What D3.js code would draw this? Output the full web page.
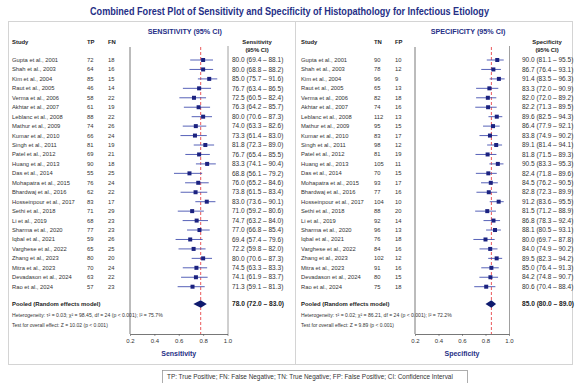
<!DOCTYPE html>
<html>
<head>
<meta charset="utf-8">
<script src="https://cdn.jsdelivr.net/npm/d3@7"></script>
<style>
  body { margin: 0; background: #fff; }
  svg { display: block; font-family: "Liberation Sans", Arial, sans-serif; }
</style>
</head>
<body>
<div id="chart"></div>
<script>
const studies = [
  'Gupta et al., 2001', 'Shah et al., 2003', 'Kim et al., 2004', 'Raut et al., 2005',
  'Verma et al., 2006', 'Akhtar et al., 2007', 'Leblanc et al., 2008', 'Mathur et al., 2009',
  'Kumar et al., 2010', 'Singh et al., 2011', 'Patel et al., 2012', 'Huang et al., 2013',
  'Das et al., 2014', 'Mohapatra et al., 2015', 'Bhardwaj et al., 2016', 'Hosseinpour et al., 2017',
  'Sethi et al., 2018', 'Li et al., 2019', 'Sharma et al., 2020', 'Iqbal et al., 2021',
  'Varghese et al., 2022', 'Zhang et al., 2023', 'Mitra et al., 2023', 'Devadason et al., 2024',
  'Rao et al., 2024'
];

const tp = [72, 64, 85, 46, 58, 61, 88, 74, 66, 81, 69, 90, 55, 76, 62, 83, 71, 68, 77, 59, 65, 80, 70, 63, 57];
const fn = [18, 16, 15, 14, 22, 19, 22, 26, 24, 19, 21, 18, 25, 24, 22, 17, 29, 23, 23, 26, 25, 20, 24, 22, 23];
const sens = [80.0, 80.0, 85.0, 76.7, 72.5, 76.3, 80.0, 74.0, 73.3, 81.8, 76.7, 83.3, 68.8, 76.0, 73.8, 83.0, 71.0, 74.7, 77.0, 69.4, 72.2, 80.0, 74.5, 74.1, 71.3];
const sensLo = [69.4, 68.8, 75.7, 63.4, 60.5, 64.2, 70.6, 63.3, 61.4, 72.3, 65.4, 74.1, 56.1, 65.2, 61.5, 73.6, 59.2, 63.2, 66.8, 57.4, 59.8, 70.6, 63.3, 61.9, 59.1];
const sensHi = [88.1, 88.2, 91.6, 86.5, 82.4, 85.7, 87.3, 82.6, 83.0, 89.0, 85.5, 90.4, 79.2, 84.6, 83.4, 90.1, 80.6, 84.0, 85.4, 79.6, 82.0, 87.3, 83.3, 83.7, 81.3];

const tn = [90, 78, 96, 65, 82, 74, 112, 95, 83, 98, 81, 105, 70, 93, 77, 104, 88, 92, 96, 76, 84, 102, 91, 80, 75];
const fp = [10, 12, 9, 13, 18, 16, 13, 15, 17, 12, 19, 11, 15, 17, 16, 10, 20, 14, 13, 18, 16, 12, 16, 15, 18];
const spec = [90.0, 86.7, 91.4, 83.3, 82.0, 82.2, 89.6, 86.4, 83.8, 89.1, 81.8, 90.5, 82.4, 84.5, 82.8, 91.2, 81.5, 86.8, 88.1, 80.0, 84.0, 89.5, 85.0, 84.2, 80.6];
const specLo = [81.1, 76.4, 83.5, 72.0, 72.0, 71.3, 82.5, 77.9, 74.9, 81.4, 71.5, 83.3, 71.8, 76.2, 72.3, 83.6, 71.2, 78.3, 80.5, 69.7, 74.9, 82.3, 76.4, 74.8, 70.4];
const specHi = [95.5, 93.1, 96.3, 90.9, 89.2, 89.5, 94.3, 92.1, 90.2, 94.1, 89.3, 95.3, 89.6, 90.5, 89.9, 95.5, 88.9, 92.4, 93.1, 87.8, 90.2, 94.2, 91.3, 90.7, 88.4];

// pooled estimate, lower, upper
const pooledSens = [78.0, 72.0, 83.0];
const pooledSpec = [85.0, 80.0, 89.0];

const hetSens = 'Heterogeneity: τ² = 0.03; χ² = 98.45, df = 24 (p < 0.001); I² = 75.7%';
const hetSpec = 'Heterogeneity: τ² = 0.02; χ² = 86.21, df = 24 (p < 0.001); I² = 72.2%';
const testSens = 'Test for overall effect: Z = 10.02 (p < 0.001)';
const testSpec = 'Test for overall effect: Z = 9.89 (p < 0.001)';

const axisTicks = [0.2, 0.4, 0.6, 0.8, 1.0];

const W = 579, H = 383;
const navy = '#262f86';
const markColor = '#1b2280';
const ciColor = '#4450b0';
const textColor = '#333';

const svg = d3.select('#chart').append('svg')
  .attr('width', W)
  .attr('height', H);

svg.append('text')
  .attr('x', 289.5)
  .attr('y', 15)
  .attr('text-anchor', 'middle')
  .attr('font-size', 10)
  .attr('font-weight', 'bold')
  .attr('fill', navy)
  .attr('textLength', 399)
  .attr('lengthAdjust', 'spacingAndGlyphs')
  .text('Combined Forest Plot of Sensitivity and Specificity of Histopathology for Infectious Etiology');

// outer frame + divider
svg.append('rect')
  .attr('x', 8.5).attr('y', 21.5)
  .attr('width', 564).attr('height', 343)
  .attr('fill', 'none')
  .attr('stroke', '#d4d4d4');
svg.append('line')
  .attr('x1', 295.5).attr('x2', 295.5)
  .attr('y1', 21.5).attr('y2', 364.5)
  .attr('stroke', '#d4d4d4');

const y = d3.scalePoint()
  .domain(studies)
  .range([60, 286.7]);

const fmt = d3.format('.1f');

function drawPanel(cfg) {
  const g = svg.append('g');

  const x = d3.scaleLinear()
    .domain([0.2, 1.0])
    .range([cfg.plotL, cfg.plotR]);

  g.append('text')
    .attr('x', (cfg.plotL + cfg.plotR) / 2 + 6)
    .attr('y', 33.5)
    .attr('text-anchor', 'middle')
    .attr('font-size', 7.2)
    .attr('font-weight', 'bold')
    .attr('fill', navy)
    .text(cfg.header);

  // column headers
  const hdr = g.append('g')
    .attr('font-size', 5.9)
    .attr('font-weight', 'bold')
    .attr('fill', '#222');
  hdr.append('text').attr('x', cfg.studyX).attr('y', 44).text('Study');
  hdr.append('text').attr('x', cfg.c1X).attr('y', 44).text(cfg.c1Name);
  hdr.append('text').attr('x', cfg.c2X).attr('y', 44).text(cfg.c2Name);
  hdr.append('text').attr('x', cfg.valX + 25).attr('y', 43.5).attr('text-anchor', 'middle').text(cfg.valName);
  hdr.append('text').attr('x', cfg.valX + 25).attr('y', 52).attr('text-anchor', 'middle').text('(95% CI)');

  // plot frame
  g.append('line')
    .attr('x1', cfg.plotR + 0.5).attr('x2', cfg.plotR + 0.5)
    .attr('y1', 46).attr('y2', 334)
    .attr('stroke', '#888').attr('stroke-width', 0.8);
  g.append('line')
    .attr('x1', cfg.plotL).attr('x2', cfg.plotL)
    .attr('y1', 47).attr('y2', 334)
    .attr('stroke', '#555').attr('stroke-width', 0.8);

  // pooled reference line
  g.append('line')
    .attr('x1', x(cfg.pooled[0] / 100)).attr('x2', x(cfg.pooled[0] / 100))
    .attr('y1', 47).attr('y2', 334)
    .attr('stroke', '#e8464a')
    .attr('stroke-width', 0.9)
    .attr('stroke-dasharray', '3,2');

  const rows = studies.map((s, i) => ({
    study: s, a: cfg.c1[i], b: cfg.c2[i],
    est: cfg.est[i], lo: cfg.lo[i], hi: cfg.hi[i]
  }));

  const row = g.append('g').selectAll('g')
    .data(rows)
    .join('g');

  row.append('text')
    .attr('x', cfg.studyX)
    .attr('y', d => y(d.study) + 2)
    .attr('font-size', 5.8)
    .attr('fill', textColor)
    .text(d => d.study);
  row.append('text')
    .attr('x', cfg.c1X)
    .attr('y', d => y(d.study) + 2)
    .attr('font-size', 5.8)
    .attr('fill', textColor)
    .text(d => d.a);
  row.append('text')
    .attr('x', cfg.c2X)
    .attr('y', d => y(d.study) + 2)
    .attr('font-size', 5.8)
    .attr('fill', textColor)
    .text(d => d.b);
  row.append('text')
    .attr('x', cfg.valX)
    .attr('y', d => y(d.study) + 2.2)
    .attr('font-size', 6.5)
    .attr('fill', textColor)
    .text(d => `${fmt(d.est)} (${fmt(d.lo)} – ${fmt(d.hi)})`);

  row.append('line')
    .attr('x1', d => x(d.lo / 100))
    .attr('x2', d => x(d.hi / 100))
    .attr('y1', d => y(d.study))
    .attr('y2', d => y(d.study))
    .attr('stroke', ciColor)
    .attr('stroke-width', 0.9);
  row.append('rect')
    .attr('x', d => x(d.est / 100) - 2)
    .attr('y', d => y(d.study) - 2)
    .attr('width', 4)
    .attr('height', 4)
    .attr('fill', markColor);

  // pooled row
  const py = 304;
  g.append('text')
    .attr('x', cfg.studyX)
    .attr('y', py + 2)
    .attr('font-size', 5.9)
    .attr('font-weight', 'bold')
    .attr('fill', '#222')
    .text('Pooled (Random effects model)');
  g.append('text')
    .attr('x', cfg.valX)
    .attr('y', py + 2.3)
    .attr('font-size', 6.6)
    .attr('font-weight', 'bold')
    .attr('fill', '#222')
    .text(`${fmt(cfg.pooled[0])} (${fmt(cfg.pooled[1])} – ${fmt(cfg.pooled[2])})`);
  const pe = x(cfg.pooled[0] / 100), pl = x(cfg.pooled[1] / 100), ph = x(cfg.pooled[2] / 100);
  g.append('path')
    .attr('d', `M${pl},${py}L${pe},${py - 3.8}L${ph},${py}L${pe},${py + 3.8}Z`)
    .attr('fill', '#0e1a6e');

  g.append('text')
    .attr('x', cfg.studyX)
    .attr('y', 316.8)
    .attr('font-size', 5.1)
    .attr('fill', textColor)
    .text(cfg.het);
  g.append('text')
    .attr('x', cfg.studyX)
    .attr('y', 326.8)
    .attr('font-size', 5.0)
    .attr('fill', textColor)
    .text(cfg.test);

  // x axis
  const axis = g.append('g')
    .attr('transform', 'translate(0,334)')
    .call(d3.axisBottom(x).tickValues(axisTicks).tickFormat(d3.format('.1f')).tickSize(2).tickSizeOuter(0));
  axis.select('.domain').attr('stroke', '#555').attr('stroke-width', 0.8);
  axis.selectAll('.tick line').attr('stroke', '#555').attr('stroke-width', 0.6);
  axis.selectAll('.tick text')
    .attr('font-size', 6)
    .attr('font-family', '"Liberation Sans", Arial, sans-serif')
    .attr('fill', '#333')
    .attr('y', 4.5);

  g.append('text')
    .attr('x', (cfg.plotL + cfg.plotR) / 2)
    .attr('y', 355.5)
    .attr('text-anchor', 'middle')
    .attr('font-size', 7)
    .attr('font-weight', 'bold')
    .attr('fill', navy)
    .text(cfg.axisName);
}

drawPanel({
  header: 'SENSITIVITY (95% CI)',
  studyX: 12, c1X: 87, c2X: 108, valX: 232,
  plotL: 130, plotR: 227.5,
  c1Name: 'TP', c2Name: 'FN', valName: 'Sensitivity',
  c1: tp, c2: fn, est: sens, lo: sensLo, hi: sensHi,
  pooled: pooledSens, het: hetSens, test: testSens,
  axisName: 'Sensitivity'
});

drawPanel({
  header: 'SPECIFICITY (95% CI)',
  studyX: 301, c1X: 374, c2X: 395, valX: 522,
  plotL: 415, plotR: 509,
  c1Name: 'TN', c2Name: 'FP', valName: 'Specificity',
  c1: tn, c2: fp, est: spec, lo: specLo, hi: specHi,
  pooled: pooledSpec, het: hetSpec, test: testSpec,
  axisName: 'Specificity'
});

// abbreviation legend
svg.append('rect')
  .attr('x', 162.5).attr('y', 370.5)
  .attr('width', 305).attr('height', 18)
  .attr('fill', '#fff')
  .attr('stroke', '#999')
  .attr('stroke-width', 0.8);
svg.append('text')
  .attr('x', 167)
  .attr('y', 379)
  .attr('font-size', 6.4)
  .attr('fill', '#333')
  .text('TP: True Positive; FN: False Negative; TN: True Negative; FP: False Positive; CI: Confidence Interval');
</script>
</body>
</html>
